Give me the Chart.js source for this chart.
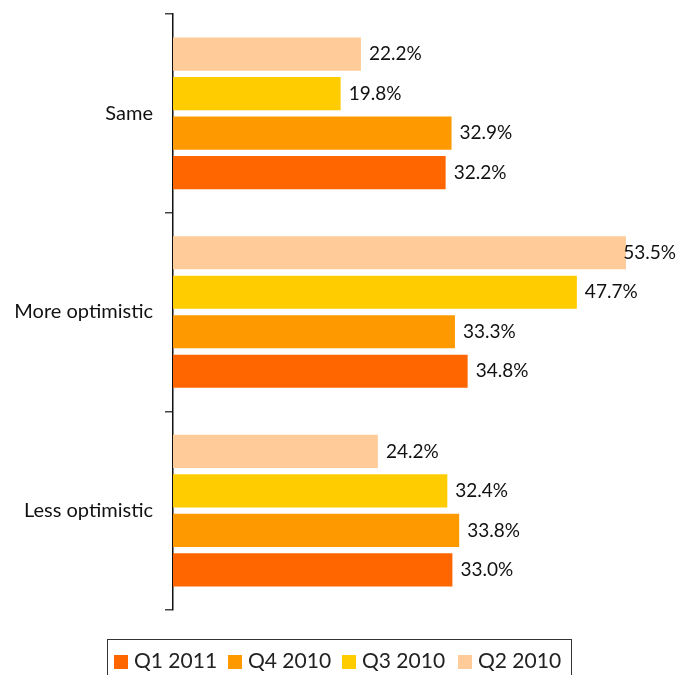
<!DOCTYPE html>
<html>
<head>
<meta charset="utf-8">
<script src="https://cdn.jsdelivr.net/npm/chart.js@4/dist/chart.umd.min.js"></script>
<style>
  html, body { margin: 0; padding: 0; background: #fff; }
  #wrap { position: relative; width: 693px; height: 675px; overflow: hidden; }
  #chart { position: absolute; left: 0; top: 0; }
  #legend {
    position: absolute; left: 107px; top: 639px; width: 465px; height: 44px;
    border: 1px solid #333; box-sizing: border-box;
    font-family: Lato, "Open Sans", sans-serif; font-size: 21px; color: #222;
  }
  #legend .item { position: absolute; top: 7px; white-space: nowrap; }
  #legend .sw { display: inline-block; width: 14px; height: 14px; margin-right: 6px; vertical-align: -1px; }
</style>
</head>
<body>
<div id="wrap">
  <canvas id="chart" width="693" height="675"></canvas>
  <div id="legend"></div>
</div>
<script>
const categories = ['Same', 'More optimistic', 'Less optimistic'];
const seriesNames = ['Q2 2010', 'Q3 2010', 'Q4 2010', 'Q1 2011'];
const q2_2010 = [22.2, 53.5, 24.2];
const q3_2010 = [19.8, 47.7, 32.4];
const q4_2010 = [32.9, 33.3, 33.8];
const q1_2011 = [32.2, 34.8, 33.0];
const seriesColors = ['#FFCC99', '#FFCC00', '#FF9900', '#FF6600'];

const seriesValues = [q2_2010, q3_2010, q4_2010, q1_2011];
const FONT = 'Lato, "Open Sans", sans-serif';

// value labels at the end of each bar
const valueLabels = {
  id: 'valueLabels',
  afterDatasetsDraw(chart) {
    const ctx = chart.ctx;
    ctx.save();
    ctx.font = '19px ' + FONT;
    ctx.fillStyle = '#111';
    ctx.textBaseline = 'middle';
    ctx.textAlign = 'left';
    chart.data.datasets.forEach((ds, di) => {
      const meta = chart.getDatasetMeta(di);
      meta.data.forEach((bar, i) => {
        const txt = ds.data[i].toFixed(1) + '%';
        const w = ctx.measureText(txt).width;
        let x = bar.x + 8;
        const limit = chart.width - 17;
        if (x + w > limit) x = limit - w;
        ctx.fillText(txt, x, bar.y);
      });
    });
    ctx.restore();
  }
};

const chart = new Chart(document.getElementById('chart'), {
  type: 'bar',
  data: {
    labels: categories,
    datasets: seriesNames.map((name, k) => ({
      label: name,
      data: seriesValues[k],
      backgroundColor: seriesColors[k],
      borderWidth: 0,
      categoryPercentage: 0.795,
      barPercentage: 0.84
    }))
  },
  options: {
    indexAxis: 'y',
    responsive: false,
    animation: false,
    layout: { padding: { top: 14, bottom: 65, right: 12, left: 0 } },
    plugins: { legend: { display: false }, tooltip: { enabled: false } },
    scales: {
      x: { display: false, min: 0, max: 60 },
      y: {
        afterFit(scale) {
          scale.width = 173;
          scale.paddingTop = 0;
          scale.paddingBottom = 0;
        },
        border: { display: true, color: '#111', width: 1.5 },
        grid: { display: true, drawOnChartArea: false, offset: true, tickLength: 8, color: '#444', lineWidth: 1.5 },
        ticks: { font: { family: FONT, size: 20 }, color: '#111', padding: 12 }
      }
    }
  },
  plugins: [valueLabels]
});

// legend row, latest quarter first
const legend = document.getElementById('legend');
const legendX = [6, 120, 234, 350];
[3, 2, 1, 0].forEach((k, j) => {
  const it = document.createElement('span');
  it.className = 'item';
  it.style.left = legendX[j] + 'px';
  it.innerHTML = '<span class="sw" style="background:' + seriesColors[k] + '"></span>' + seriesNames[k];
  legend.appendChild(it);
});
</script>
</body>
</html>
